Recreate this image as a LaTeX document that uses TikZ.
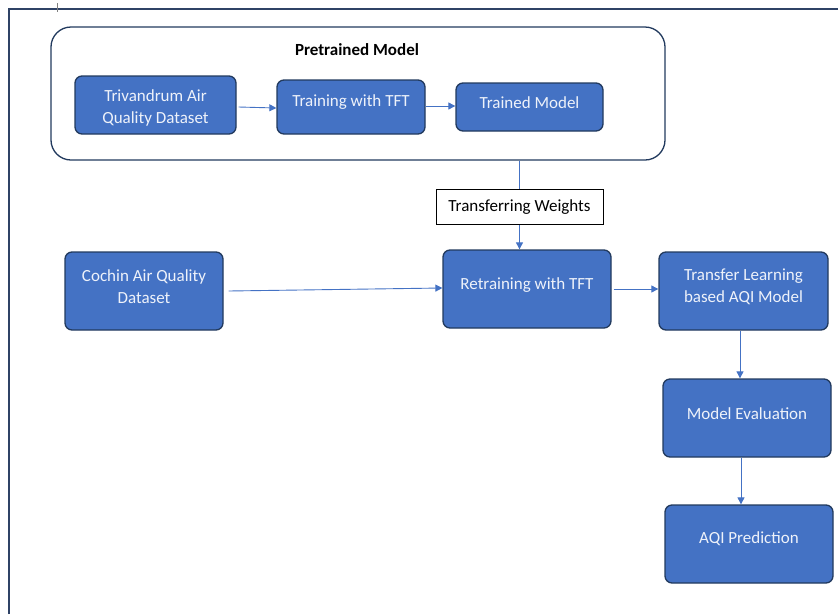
\documentclass[tikz,border=0pt]{standalone}
\usepackage{fontspec}
\setmainfont{Carlito}
\usetikzlibrary{arrows.meta}
\definecolor{boxfill}{HTML}{4472C4}
\definecolor{boxline}{HTML}{223A5E}
\definecolor{frameline}{HTML}{2F4366}
\definecolor{arrowc}{HTML}{4472C4}
\definecolor{txt}{HTML}{EEF2FA}
\tikzset{
  bluebox/.style={draw=boxline, line width=1.3pt, fill=boxfill, rounded corners=7pt, inner sep=0pt},
  boxtext/.style={text=txt, font=\fontsize{17}{22}\selectfont, align=center, inner sep=0pt},
  conn/.style={draw=arrowc, line width=0.9pt, -{Triangle[width=7pt,length=7pt]}},
  plainconn/.style={draw=arrowc, line width=0.9pt},
}
\begin{document}
\begin{tikzpicture}[x=1pt,y=-1pt]
\useasboundingbox (0,0) rectangle (838,614);
% outer frame
\draw[frameline, line width=1.2pt] (9,614) -- (9,9) -- (838,9);
\draw[gray, line width=0.5pt] (57,3) -- (57,12);
% pretrained container
\node[draw=boxline, line width=1.3pt, rounded corners=20pt, minimum width=614pt, minimum height=133pt, inner sep=0pt] (pre) at (358,93.5) {};
\node[font=\bfseries\fontsize{17}{20}\selectfont, inner sep=0pt] (pretitle) at (357,50) {Pretrained Model};
% boxes
\node[bluebox, minimum width=161pt, minimum height=58pt] (triv) at (155.5,105) {};
\node[boxtext] (trivt) at (155.5,108) {Trivandrum Air\\Quality Dataset};
\node[bluebox, minimum width=148pt, minimum height=54pt] (train) at (351,107) {};
\node[boxtext] (traint) at (351,102) {Training with TFT};
\node[bluebox, minimum width=147pt, minimum height=48pt] (trained) at (529.5,107) {};
\node[boxtext] (trainedt) at (529.5,103) {Trained Model};
% transferring weights
\node[draw=black, line width=0.6pt, fill=white, minimum width=167pt, minimum height=35pt, inner sep=0pt, font=\fontsize{17}{20}\selectfont] (tw) at (519.5,207) {Transferring Weights};
\node[bluebox, minimum width=168pt, minimum height=78pt] (retrain) at (527,289) {};
\node[boxtext] (retraint) at (527,285) {Retraining with TFT};
\node[bluebox, minimum width=158pt, minimum height=78pt] (cochin) at (144,291) {};
\node[boxtext] (cochint) at (144,287) {Cochin Air Quality\\Dataset};
\node[bluebox, minimum width=169pt, minimum height=78pt] (tl) at (743.5,291) {};
\node[boxtext] (tlt) at (743.5,287) {Transfer Learning\\based AQI Model};
\node[bluebox, minimum width=168pt, minimum height=78pt] (eval) at (747,418) {};
\node[boxtext] (evalt) at (747,414) {Model Evaluation};
\node[bluebox, minimum width=168pt, minimum height=78pt] (aqi) at (749,544) {};
\node[boxtext] (aqit) at (749,539) {AQI Prediction};
% connectors
\draw[conn] ([xshift=2pt,yshift=-2pt]triv.east) -- ([yshift=-1pt]train.west);
\draw[conn] ([yshift=1pt]train.east) -- ([yshift=1pt]trained.west);
\draw[plainconn] (pre.south -| tw.north) -- (tw.north);
\draw[conn] (tw.south) -- (tw.south |- retrain.north);
\draw[conn] ([xshift=5pt]cochin.east) -- ([yshift=1pt]retrain.west);
\draw[conn] ([xshift=2pt]retrain.east) -- (retrain.east -| tl.west);
\draw[conn] ([xshift=-3.5pt]tl.south) -- ([xshift=-3.5pt]tl.south |- eval.north);
\draw[conn] ([xshift=-6pt]eval.south) -- ([xshift=-6pt]eval.south |- aqi.north);
\end{tikzpicture}
\end{document}
